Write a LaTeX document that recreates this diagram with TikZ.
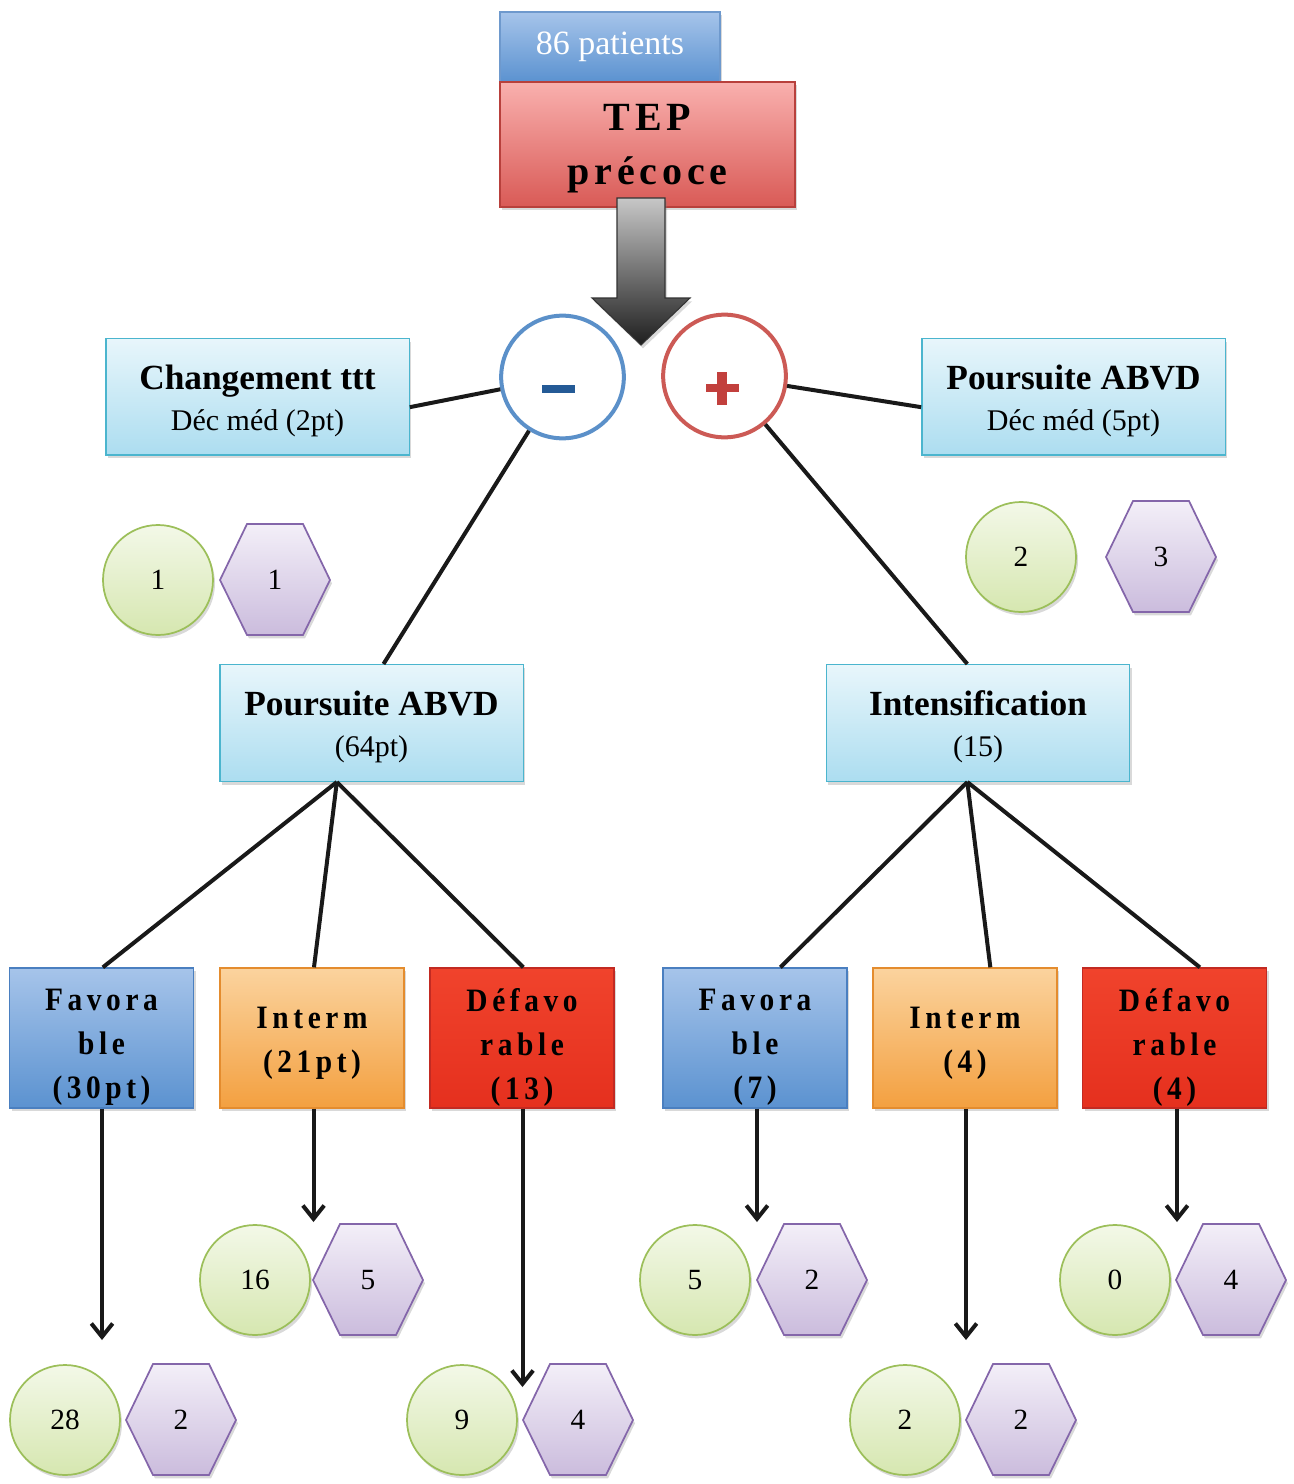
\documentclass[tikz,border=0pt]{standalone}
\usepackage{fontspec}
\setmainfont{Liberation Serif}
\newfontfamily\widefont[LetterSpace=14,FakeStretch=0.9]{Liberation Serif}
\newfontfamily\tepfont[LetterSpace=12]{Liberation Serif}
\usetikzlibrary{arrows.meta,shadows,calc}
\definecolor{pblueT}{HTML}{A6C4EA}
\definecolor{pblueB}{HTML}{5B92D0}
\definecolor{pblueD}{HTML}{4A7FC0}
\definecolor{tepT}{HTML}{F9B0AE}
\definecolor{tepB}{HTML}{D95A56}
\definecolor{tepD}{HTML}{B8403C}
\definecolor{cyT}{HTML}{E8F6FB}
\definecolor{cyB}{HTML}{ACDDF0}
\definecolor{cyD}{HTML}{4BB5CE}
\definecolor{orT}{HTML}{FBD39E}
\definecolor{orB}{HTML}{F3A040}
\definecolor{orD}{HTML}{E48C2E}
\definecolor{rdT}{HTML}{F0432C}
\definecolor{rdB}{HTML}{E5301E}
\definecolor{rdD}{HTML}{C22A22}
\definecolor{grT}{HTML}{F3F8E8}
\definecolor{grB}{HTML}{D6E7B0}
\definecolor{grD}{HTML}{9CBF5A}
\definecolor{puT}{HTML}{F3EFF8}
\definecolor{puB}{HTML}{CBBCDD}
\definecolor{puD}{HTML}{8466AA}
\definecolor{minusC}{HTML}{5B90C9}
\definecolor{minusF}{HTML}{245A96}
\definecolor{plusC}{HTML}{CC5A55}
\definecolor{plusF}{HTML}{C2403D}
\tikzset{
  shad/.style={drop shadow={opacity=.3,shadow xshift=1.5pt,shadow yshift=-2.5pt}},
  box/.style={rectangle, line width=1pt, inner sep=0pt, align=center, shad},
  cyanbox/.style={box, draw=cyD, top color=cyT, bottom color=cyB,
    minimum width=227.5pt, minimum height=87.5pt},
  cytxt/.style={align=center, inner sep=0pt, font=\fontsize{22.5}{30.75}\selectfont},
  bigbox/.style={box, minimum width=138pt, minimum height=105pt},
  boxtxt/.style={align=center, inner sep=0pt, font=\widefont\bfseries\fontsize{24.5}{33}\selectfont},
  favbox/.style={bigbox, draw=pblueD, top color=pblueT, bottom color=pblueB},
  intbox/.style={bigbox, draw=orD, top color=orT, bottom color=orB},
  defbox/.style={bigbox, draw=rdD, top color=rdT, bottom color=rdB},
  bigcirc/.style={circle, fill=white, line width=3pt, minimum size=92pt, inner sep=0pt},
  smallcirc/.style={circle, draw=grD, line width=1.3pt, top color=grT, bottom color=grB,
    minimum size=82.5pt, inner sep=0pt, shad, font=\fontsize{22}{26}\selectfont},
  hexst/.style={draw=puD, line width=1.3pt, top color=puT, bottom color=puB, shad},
  numtxt/.style={font=\fontsize{22}{26}\selectfont, inner sep=0pt},
  link/.style={line width=3pt, draw=black!90},
  arr/.style={line width=3pt, draw=black!90, -{Straight Barb[length=10pt,width=16pt,line width=3pt]}},
}
\newcommand\hexnode[4]{%
  \draw[hexst] (#2-55,#3) -- (#2-28,#3-56) -- (#2+28,#3-56) -- (#2+55,#3)
    -- (#2+28,#3+55) -- (#2-28,#3+55) -- cycle;
  \node[numtxt] (#1) at (#2,#3) {#4};}
\newcommand\ttlline[1]{{\bfseries\fontsize{26.5}{30.75}\selectfont #1}}
\begin{document}
\begin{tikzpicture}[x=0.75pt,y=-0.75pt]
\useasboundingbox (0,0) rectangle (1294,1484);

% top boxes
\node[box, draw=pblueD!80, top color=pblueT, bottom color=pblueB,
  minimum width=165pt, minimum height=52.5pt, text=white,
  font=\fontsize{25.5}{28}\selectfont] (pat) at (610,47) {86 patients};
\node[box, draw=tepD, top color=tepT, bottom color=tepB,
  minimum width=221.25pt, minimum height=93.75pt] (tep) at (647.5,144.5) {};
\node[align=center, inner sep=0pt, font=\tepfont\bfseries\fontsize{30}{40}\selectfont]
  (teptxt) at ([yshift=-3pt]tep.center) {TEP\\précoce};

% circles
\node[bigcirc, draw=minusC] (minus) at (562.5,377) {};
\node[bigcirc, draw=plusC] (plus) at (724.5,376) {};
\fill[minusF] (541.5,385) rectangle (574.5,393);
\fill[plusF] (705.5,384) rectangle (738.5,392);
\fill[plusF] (717,371.5) rectangle (727,404.5);

% big arrow
\draw[line width=0.8pt, draw=black!80, top color=black!22, bottom color=black!88, shad]
  (617,198) -- (665,198) -- (665,298) -- (690,298) -- (641,345) -- (592,298) -- (617,298) -- cycle;

% decision boxes
\node[cyanbox] (chg) at (257.5,396.5) {};
\node[cyanbox] (pab1) at (1073.5,396.5) {};
\node[cyanbox] (pab2) at (371.5,723) {};
\node[cyanbox] (int) at (978,723) {};
\node[cytxt] (chgt) at ([yshift=-3pt]chg.center) {\ttlline{Changement ttt}\\Déc méd (2pt)};
\node[cytxt] (pab1t) at ([yshift=-3pt]pab1.center) {\ttlline{Poursuite ABVD}\\Déc méd (5pt)};
\node[cytxt] (pab2t) at ([yshift=-3pt]pab2.center) {\ttlline{Poursuite ABVD}\\(64pt)};
\node[cytxt] (intt) at ([yshift=-3pt]int.center) {\ttlline{Intensification}\\(15)};

% connectors top
\draw[link] ([yshift=-8pt]chg.east) -- (minus);
\draw[link] (plus) -- ([yshift=-8pt]pab1.west);
\draw[link] (minus) -- ([xshift=9pt]pab2.north);
\draw[link] (plus) -- ([xshift=-8pt]int.north);

% side counts
\node[smallcirc] (c1) at (158,580) {1};
\hexnode{h1}{275}{580}{1}
\node[smallcirc] (c2) at (1021,557) {2};
\hexnode{h2}{1161}{557}{3}

% outcome boxes
\node[favbox] (fav1) at (101.5,1038) {};
\node[intbox] (itm1) at (312,1038) {};
\node[defbox] (def1) at (522,1038) {};
\node[favbox] (fav2) at (755,1038) {};
\node[intbox] (itm2) at (965,1038) {};
\node[defbox] (def2) at (1174.5,1038) {};
\node[boxtxt] (fav1t) at ([yshift=-7pt]fav1.center) {Favora\\ble\\(30pt)};
\node[boxtxt] (itm1t) at ([yshift=-4pt]itm1.center) {Interm\\(21pt)};
\node[boxtxt] (def1t) at ([yshift=-7pt]def1.center) {Défavo\\rable\\(13)};
\node[boxtxt] (fav2t) at ([yshift=-7pt]fav2.center) {Favora\\ble\\(7)};
\node[boxtxt] (itm2t) at ([yshift=-4pt]itm2.center) {Interm\\(4)};
\node[boxtxt] (def2t) at ([yshift=-7pt]def2.center) {Défavo\\rable\\(4)};

\coordinate (b1) at ([xshift=-26pt]pab2.south);
\coordinate (b2) at ([xshift=-8pt]int.south);
\draw[link] (b1) -- ([xshift=1pt]fav1.north);
\draw[link] (b1) -- ([xshift=1.5pt]itm1.north);
\draw[link] (b1) -- ([xshift=1pt]def1.north);
\draw[link] (b2) -- ([xshift=19pt]fav2.north);
\draw[link] (b2) -- ([xshift=19pt]itm2.north);
\draw[link] (b2) -- ([xshift=19pt]def2.north);

% arrows
\coordinate (t1) at (102,1340);
\coordinate (t2) at (313.5,1222);
\coordinate (t3) at (522.5,1387);
\coordinate (t4) at (757,1222);
\coordinate (t5) at (966,1340);
\coordinate (t6) at (1177,1222);
\draw[arr] (fav1.south -| t1) -- (t1);
\draw[arr] (itm1.south -| t2) -- (t2);
\draw[arr] (def1.south -| t3) -- (t3);
\draw[arr] (fav2.south -| t4) -- (t4);
\draw[arr] (itm2.south -| t5) -- (t5);
\draw[arr] (def2.south -| t6) -- (t6);

% bottom counts
\node[smallcirc] (c3) at (65,1420) {28};
\hexnode{h3}{181}{1420}{2}
\node[smallcirc] (c4) at (255,1280) {16};
\hexnode{h4}{368}{1280}{5}
\node[smallcirc] (c5) at (462,1420) {9};
\hexnode{h5}{578}{1420}{4}
\node[smallcirc] (c6) at (695,1280) {5};
\hexnode{h6}{812}{1280}{2}
\node[smallcirc] (c7) at (905,1420) {2};
\hexnode{h7}{1021}{1420}{2}
\node[smallcirc] (c8) at (1115,1280) {0};
\hexnode{h8}{1231}{1280}{4}
\end{tikzpicture}
\end{document}
